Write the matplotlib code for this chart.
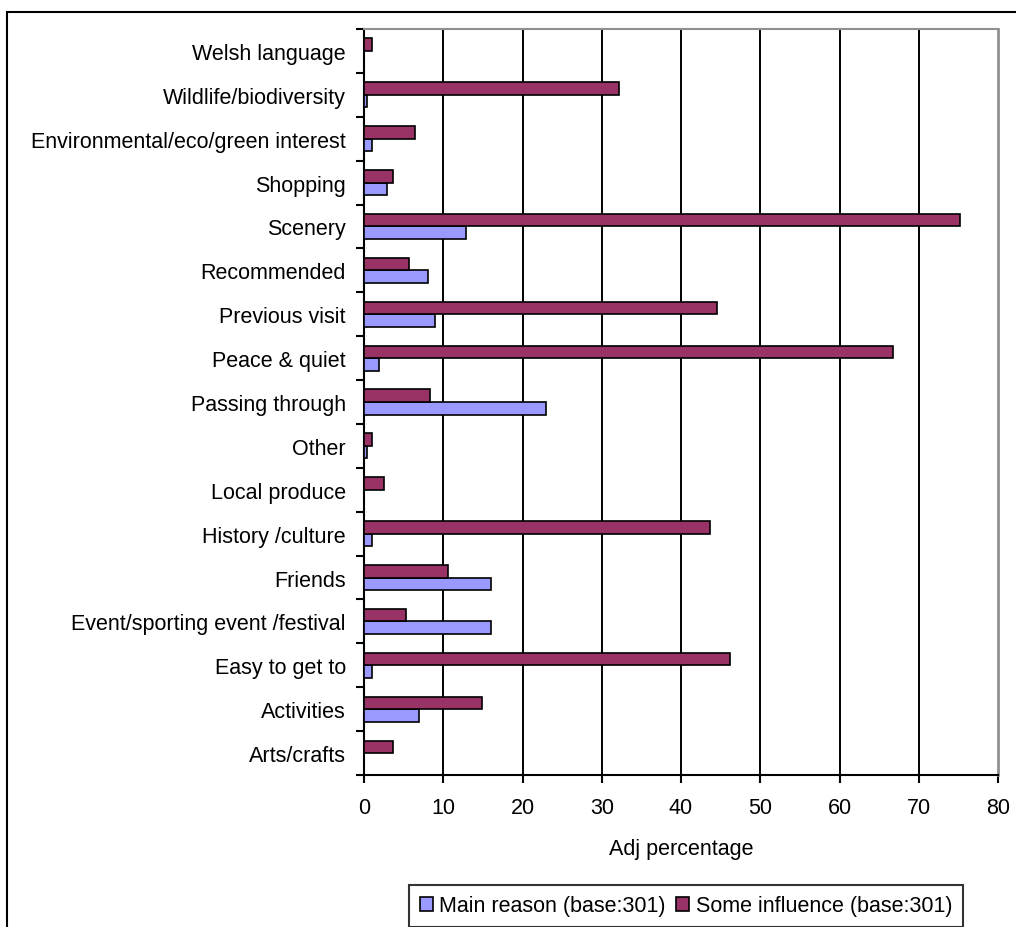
import matplotlib
matplotlib.use("Agg")
import matplotlib.pyplot as plt
from matplotlib.patches import Rectangle
import numpy as np

plt.rcParams['font.family'] = ['Liberation Sans', 'DejaVu Sans']

categories = ["Arts/crafts", "Activities", "Easy to get to", "Event/sporting event /festival",
              "Friends", "History /culture", "Local produce", "Other", "Passing through",
              "Peace & quiet", "Previous visit", "Recommended", "Scenery", "Shopping",
              "Environmental/eco/green interest", "Wildlife/biodiversity", "Welsh language"]
main_reason = [0, 7.0, 1.0, 16.0, 16.0, 1.0, 0, 0.4, 23.0, 1.9, 8.9, 8.1, 12.9, 2.9, 1.0, 0.4, 0]
some_influence = [3.6, 14.9, 46.2, 5.3, 10.6, 43.6, 2.5, 1.0, 8.3, 66.8, 44.5, 5.7, 75.2, 3.6, 6.4, 32.2, 1.0]
x_ticks = [0, 10, 20, 30, 40, 50, 60, 70, 80]
series_names = ["Main reason (base:301)", "Some influence (base:301)"]

FS = 15.5
W, H = 1016, 928
fig = plt.figure(figsize=(W / 100, H / 100), dpi=100)
ax = fig.add_axes([364 / W, 1 - 776 / H, (998 - 364) / W, (776 - 30) / H])

y = np.arange(len(categories))
h = 0.285
off = 0.143
b1 = ax.barh(y - off, main_reason, height=h, color="#9999FF", edgecolor="black", linewidth=1.2,
             label=series_names[0], zorder=3)
b2 = ax.barh(y + off, some_influence, height=h, color="#993366", edgecolor="black", linewidth=1.2,
             label=series_names[1], zorder=3)

ax.set_xlim(0, 80)
ax.set_ylim(-0.5, len(categories) - 0.5)
ax.set_xticks(x_ticks)
ax.set_xticklabels([str(t) for t in x_ticks], fontsize=FS)
ax.set_yticks(y)
ax.set_yticklabels(categories, fontsize=FS)
ax.set_yticks(np.arange(-0.5, len(categories), 1.0), minor=True)
ax.tick_params(axis='y', which='major', length=0, pad=13)
ax.tick_params(axis='y', which='minor', length=6, width=1.5, direction='out')
ax.tick_params(axis='x', which='major', length=6, width=1.5, direction='out', pad=9.5)

for xv in x_ticks[1:-1]:
    ax.axvline(xv, color="black", linewidth=1.4, zorder=1)

ax.spines['left'].set_color('black')
ax.spines['left'].set_linewidth(1.5)
ax.spines['bottom'].set_color('black')
ax.spines['bottom'].set_linewidth(1.5)
ax.spines['top'].set_color('#909090')
ax.spines['top'].set_linewidth(1.5)
ax.spines['right'].set_color('#909090')
ax.spines['right'].set_linewidth(2)

ax.set_xlabel("Adj percentage", fontsize=FS, labelpad=15)

leg = fig.legend(handles=[b1, b2], labels=series_names, loc='center',
                 bbox_to_anchor=(686 / W, 1 - 907 / H), ncol=2, fontsize=FS,
                 frameon=True, fancybox=False, edgecolor='black', handlelength=0.6,
                 handleheight=0.6, handletextpad=0.3, columnspacing=0.5, borderpad=0.5,
                 borderaxespad=0)
leg.get_frame().set_linewidth(1.5)

# outer chart frame
fig.patches.append(Rectangle((7 / W, -0.05), 1.2, 1 - 13 / H + 0.05, transform=fig.transFigure,
                             fill=False, edgecolor='black', linewidth=1.5))

fig.savefig("out.png", dpi=100)
